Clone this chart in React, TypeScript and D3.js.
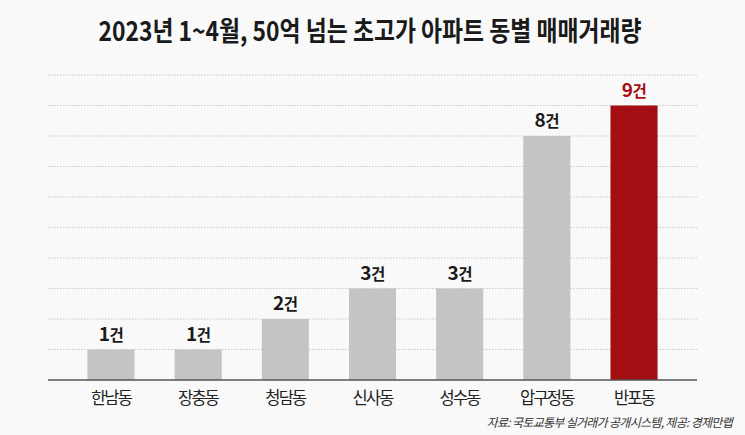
import React from "react";
import * as d3 from "d3";

const categories = ["한남동", "장충동", "청담동", "신사동", "성수동", "압구정동", "반포동"];
const values = [1, 1, 2, 3, 3, 8, 9];
const highlight = "반포동";
const gridTicks = [1, 2, 3, 4, 5, 6, 7, 8, 9, 10];
const title = "2023년 1~4월, 50억 넘는 초고가 아파트 동별 매매거래량";
const source = "자료: 국토교통부 실거래가 공개시스템, 제공: 경제만랩";
const unit = "건";

const W = 745;
const H = 435;
const FONT = "'Noto Sans CJK KR', 'Noto Sans', sans-serif";

export default function App() {
  const x = d3.scaleBand<string>().domain(categories).range([67.4, 677.6]).paddingInner(0.46).paddingOuter(0.23);
  const y = d3.scaleLinear().domain([0, 10]).range([380, 75]);
  const bw = x.bandwidth();

  return (
    <svg
      width={W}
      height={H}
      style={{ position: "absolute", left: 0, top: 0, background: "#f9f9f9", fontFamily: FONT }}
    >
      <rect x={0} y={0} width={W} height={H} fill="#f9f9f9" />
      <text
        x={370}
        y={41}
        textAnchor="middle"
        fontSize={27}
        fontWeight={700}
        fill="#1a1a1a"
        textLength={543}
        lengthAdjust="spacingAndGlyphs"
      >
        {title}
      </text>
      {gridTicks.map((t) => (
        <line
          key={t}
          x1={48}
          x2={697}
          y1={y(t)}
          y2={y(t)}
          stroke="#c8c8c8"
          strokeWidth={1}
          strokeDasharray="1.5 1.5"
        />
      ))}
      {categories.map((c, i) => {
        const v = values[i];
        const isHi = c === highlight;
        const bx = x(c) as number;
        return (
          <g key={c}>
            <rect x={bx} y={y(v)} width={bw} height={y(0) - y(v)} fill={isHi ? "#a40d12" : "#c4c4c4"} />
            <text
              x={bx + bw / 2}
              y={y(v) - 9}
              textAnchor="middle"
              fontSize={19}
              fontWeight={700}
              fill={isHi ? "#a40d12" : "#1a1a1a"}
              letterSpacing={-0.5}
            >
              {v}
              <tspan fontSize={15.5}>{unit}</tspan>
            </text>
            <text
              x={bx + bw / 2}
              y={404}
              textAnchor="middle"
              fontSize={16.5}
              fill="#222"
              letterSpacing={-1.8}
            >
              {c}
            </text>
          </g>
        );
      })}
      <line x1={48} x2={697} y1={y(0)} y2={y(0)} stroke="#555" strokeWidth={1.5} />
      <text
        x={732}
        y={427}
        textAnchor="end"
        fontSize={12}
        fontStyle="italic"
        fill="#333"
        letterSpacing={-0.7}
      >
        {source}
      </text>
    </svg>
  );
}
